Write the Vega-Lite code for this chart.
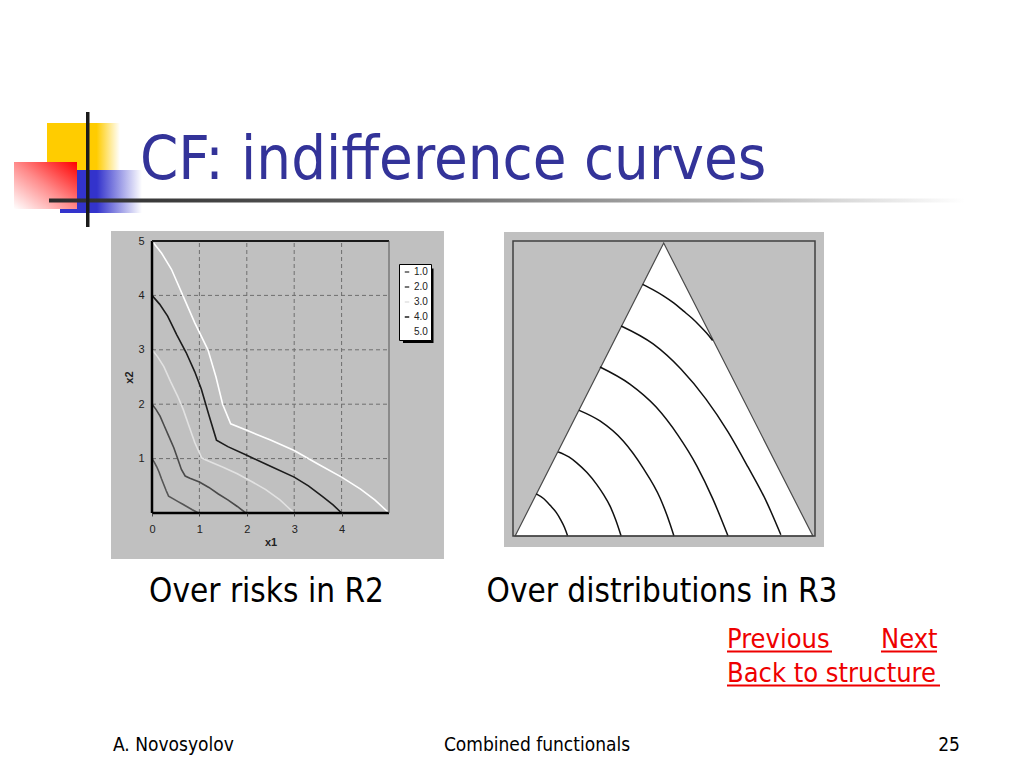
{
  "$schema": "https://vega.github.io/schema/vega-lite/v6.json",
  "background": "white",
  "padding": 0,
  "spacing": 0,
  "config": {"view": {"stroke": null}, "concat": {"spacing": 0}},
  "datasets": {
    "grid": [{"g": 1}, {"g": 2}, {"g": 3}, {"g": 4}],
    "curves": [
      {"level": "1.0", "i": 0, "x1": 0, "x2": 1},
      {"level": "1.0", "i": 1, "x1": 0.05, "x2": 0.93},
      {"level": "1.0", "i": 2, "x1": 0.1, "x2": 0.85},
      {"level": "1.0", "i": 3, "x1": 0.15, "x2": 0.75},
      {"level": "1.0", "i": 4, "x1": 0.2, "x2": 0.63},
      {"level": "1.0", "i": 5, "x1": 0.25, "x2": 0.52},
      {"level": "1.0", "i": 6, "x1": 0.3, "x2": 0.41},
      {"level": "1.0", "i": 7, "x1": 0.35, "x2": 0.31},
      {"level": "1.0", "i": 8, "x1": 0.45, "x2": 0.26},
      {"level": "1.0", "i": 9, "x1": 0.55, "x2": 0.21},
      {"level": "1.0", "i": 10, "x1": 0.65, "x2": 0.16},
      {"level": "1.0", "i": 11, "x1": 0.75, "x2": 0.11},
      {"level": "1.0", "i": 12, "x1": 0.85, "x2": 0.06},
      {"level": "1.0", "i": 13, "x1": 0.98, "x2": 0},
      {"level": "2.0", "i": 0, "x1": 0, "x2": 2},
      {"level": "2.0", "i": 1, "x1": 0.08, "x2": 1.91},
      {"level": "2.0", "i": 2, "x1": 0.17, "x2": 1.78},
      {"level": "2.0", "i": 3, "x1": 0.26, "x2": 1.6},
      {"level": "2.0", "i": 4, "x1": 0.36, "x2": 1.4},
      {"level": "2.0", "i": 5, "x1": 0.46, "x2": 1.2},
      {"level": "2.0", "i": 6, "x1": 0.54, "x2": 1},
      {"level": "2.0", "i": 7, "x1": 0.62, "x2": 0.8},
      {"level": "2.0", "i": 8, "x1": 0.7, "x2": 0.68},
      {"level": "2.0", "i": 9, "x1": 0.8, "x2": 0.64},
      {"level": "2.0", "i": 10, "x1": 1, "x2": 0.57},
      {"level": "2.0", "i": 11, "x1": 1.2, "x2": 0.47},
      {"level": "2.0", "i": 12, "x1": 1.4, "x2": 0.35},
      {"level": "2.0", "i": 13, "x1": 1.6, "x2": 0.24},
      {"level": "2.0", "i": 14, "x1": 1.8, "x2": 0.12},
      {"level": "2.0", "i": 15, "x1": 1.98, "x2": 0},
      {"level": "3.0", "i": 0, "x1": 0, "x2": 3},
      {"level": "3.0", "i": 1, "x1": 0.12, "x2": 2.87},
      {"level": "3.0", "i": 2, "x1": 0.25, "x2": 2.69},
      {"level": "3.0", "i": 3, "x1": 0.39, "x2": 2.42},
      {"level": "3.0", "i": 4, "x1": 0.54, "x2": 2.15},
      {"level": "3.0", "i": 5, "x1": 0.66, "x2": 1.9},
      {"level": "3.0", "i": 6, "x1": 0.78, "x2": 1.6},
      {"level": "3.0", "i": 7, "x1": 0.9, "x2": 1.3},
      {"level": "3.0", "i": 8, "x1": 1.05, "x2": 1.01},
      {"level": "3.0", "i": 9, "x1": 1.2, "x2": 0.95},
      {"level": "3.0", "i": 10, "x1": 1.5, "x2": 0.84},
      {"level": "3.0", "i": 11, "x1": 1.8, "x2": 0.72},
      {"level": "3.0", "i": 12, "x1": 2.1, "x2": 0.58},
      {"level": "3.0", "i": 13, "x1": 2.4, "x2": 0.43},
      {"level": "3.0", "i": 14, "x1": 2.7, "x2": 0.24},
      {"level": "3.0", "i": 15, "x1": 2.85, "x2": 0.12},
      {"level": "3.0", "i": 16, "x1": 3, "x2": 0},
      {"level": "4.0", "i": 0, "x1": 0, "x2": 4},
      {"level": "4.0", "i": 1, "x1": 0.16, "x2": 3.84},
      {"level": "4.0", "i": 2, "x1": 0.33, "x2": 3.62},
      {"level": "4.0", "i": 3, "x1": 0.52, "x2": 3.28},
      {"level": "4.0", "i": 4, "x1": 0.72, "x2": 2.95},
      {"level": "4.0", "i": 5, "x1": 0.9, "x2": 2.6},
      {"level": "4.0", "i": 6, "x1": 1.04, "x2": 2.28},
      {"level": "4.0", "i": 7, "x1": 1.2, "x2": 1.8},
      {"level": "4.0", "i": 8, "x1": 1.36, "x2": 1.34},
      {"level": "4.0", "i": 9, "x1": 1.6, "x2": 1.22},
      {"level": "4.0", "i": 10, "x1": 2, "x2": 1.06},
      {"level": "4.0", "i": 11, "x1": 2.5, "x2": 0.86},
      {"level": "4.0", "i": 12, "x1": 3, "x2": 0.66},
      {"level": "4.0", "i": 13, "x1": 3.3, "x2": 0.5},
      {"level": "4.0", "i": 14, "x1": 3.6, "x2": 0.3},
      {"level": "4.0", "i": 15, "x1": 3.82, "x2": 0.15},
      {"level": "4.0", "i": 16, "x1": 4, "x2": 0},
      {"level": "5.0", "i": 0, "x1": 0, "x2": 5},
      {"level": "5.0", "i": 1, "x1": 0.2, "x2": 4.78},
      {"level": "5.0", "i": 2, "x1": 0.41, "x2": 4.48},
      {"level": "5.0", "i": 3, "x1": 0.65, "x2": 4},
      {"level": "5.0", "i": 4, "x1": 0.9, "x2": 3.5},
      {"level": "5.0", "i": 5, "x1": 1.18, "x2": 3},
      {"level": "5.0", "i": 6, "x1": 1.35, "x2": 2.5},
      {"level": "5.0", "i": 7, "x1": 1.49, "x2": 2},
      {"level": "5.0", "i": 8, "x1": 1.66, "x2": 1.64},
      {"level": "5.0", "i": 9, "x1": 2, "x2": 1.52},
      {"level": "5.0", "i": 10, "x1": 2.5, "x2": 1.34},
      {"level": "5.0", "i": 11, "x1": 3, "x2": 1.15},
      {"level": "5.0", "i": 12, "x1": 3.5, "x2": 0.9},
      {"level": "5.0", "i": 13, "x1": 4, "x2": 0.66},
      {"level": "5.0", "i": 14, "x1": 4.4, "x2": 0.44},
      {"level": "5.0", "i": 15, "x1": 4.7, "x2": 0.24},
      {"level": "5.0", "i": 16, "x1": 5, "x2": 0}
    ],
    "triangle": [{"x": 0.007, "y": 0}, {"x": 0.499, "y": 0.993}, {"x": 0.993, "y": 0}],
    "arcs": [
      {"arc": 1, "i": 0, "x": 0.077, "y": 0.143},
      {"arc": 1, "i": 1, "x": 0.1, "y": 0.128},
      {"arc": 1, "i": 2, "x": 0.123, "y": 0.104},
      {"arc": 1, "i": 3, "x": 0.143, "y": 0.08},
      {"arc": 1, "i": 4, "x": 0.158, "y": 0.055},
      {"arc": 1, "i": 5, "x": 0.171, "y": 0.028},
      {"arc": 1, "i": 6, "x": 0.181, "y": 0},
      {"arc": 2, "i": 0, "x": 0.15, "y": 0.285},
      {"arc": 2, "i": 1, "x": 0.185, "y": 0.268},
      {"arc": 2, "i": 2, "x": 0.211, "y": 0.248},
      {"arc": 2, "i": 3, "x": 0.245, "y": 0.215},
      {"arc": 2, "i": 4, "x": 0.277, "y": 0.175},
      {"arc": 2, "i": 5, "x": 0.3, "y": 0.14},
      {"arc": 2, "i": 6, "x": 0.321, "y": 0.102},
      {"arc": 2, "i": 7, "x": 0.34, "y": 0.055},
      {"arc": 2, "i": 8, "x": 0.358, "y": 0},
      {"arc": 3, "i": 0, "x": 0.219, "y": 0.426},
      {"arc": 3, "i": 1, "x": 0.288, "y": 0.39},
      {"arc": 3, "i": 2, "x": 0.365, "y": 0.322},
      {"arc": 3, "i": 3, "x": 0.431, "y": 0.23},
      {"arc": 3, "i": 4, "x": 0.487, "y": 0.129},
      {"arc": 3, "i": 5, "x": 0.52, "y": 0.041},
      {"arc": 3, "i": 6, "x": 0.533, "y": 0},
      {"arc": 4, "i": 0, "x": 0.288, "y": 0.573},
      {"arc": 4, "i": 1, "x": 0.387, "y": 0.515},
      {"arc": 4, "i": 2, "x": 0.474, "y": 0.437},
      {"arc": 4, "i": 3, "x": 0.546, "y": 0.342},
      {"arc": 4, "i": 4, "x": 0.609, "y": 0.237},
      {"arc": 4, "i": 5, "x": 0.662, "y": 0.125},
      {"arc": 4, "i": 6, "x": 0.712, "y": 0},
      {"arc": 5, "i": 0, "x": 0.358, "y": 0.712},
      {"arc": 5, "i": 1, "x": 0.464, "y": 0.651},
      {"arc": 5, "i": 2, "x": 0.556, "y": 0.566},
      {"arc": 5, "i": 3, "x": 0.639, "y": 0.464},
      {"arc": 5, "i": 4, "x": 0.712, "y": 0.353},
      {"arc": 5, "i": 5, "x": 0.778, "y": 0.234},
      {"arc": 5, "i": 6, "x": 0.838, "y": 0.119},
      {"arc": 5, "i": 7, "x": 0.887, "y": 0.004},
      {"arc": 6, "i": 0, "x": 0.429, "y": 0.853},
      {"arc": 6, "i": 1, "x": 0.463, "y": 0.835},
      {"arc": 6, "i": 2, "x": 0.498, "y": 0.814},
      {"arc": 6, "i": 3, "x": 0.532, "y": 0.79},
      {"arc": 6, "i": 4, "x": 0.564, "y": 0.763},
      {"arc": 6, "i": 5, "x": 0.593, "y": 0.738},
      {"arc": 6, "i": 6, "x": 0.619, "y": 0.712},
      {"arc": 6, "i": 7, "x": 0.641, "y": 0.688},
      {"arc": 6, "i": 8, "x": 0.661, "y": 0.663}
    ]
  },
  "vconcat": [
    {
      "width": 1024,
      "height": 230,
      "data": {"values": [{"slide": "header"}]},
      "layer": [
        {"mark": {"type": "rect", "opacity": 0},
         "encoding": {
           "x": {"datum": 0, "type": "quantitative", "scale": {"domain": [0, 1024], "nice": false, "zero": false}, "axis": null},
           "x2": {"datum": 1024},
           "y": {"datum": 0, "type": "quantitative", "scale": {"domain": [0, 230], "nice": false, "zero": false, "reverse": true}, "axis": null},
           "y2": {"datum": 230}}},
        {"mark": {"type": "rect", "fill": {"gradient": "linear", "x1": 0, "y1": 0, "x2": 1, "y2": 0, "stops": [{"offset": 0, "color": "#ffcc00"}, {"offset": 0.68, "color": "#ffcc00"}, {"offset": 1, "color": "#ffffff"}]}},
         "encoding": {
           "x": {"datum": 47, "type": "quantitative", "scale": {"domain": [0, 1024], "nice": false, "zero": false}, "axis": null},
           "x2": {"datum": 120},
           "y": {"datum": 123, "type": "quantitative", "scale": {"domain": [0, 230], "nice": false, "zero": false, "reverse": true}, "axis": null},
           "y2": {"datum": 170}}},
        {"mark": {"type": "rect", "fill": {"gradient": "linear", "x1": 0, "y1": 0, "x2": 1, "y2": 0, "stops": [{"offset": 0, "color": "#3333cc"}, {"offset": 0.45, "color": "#3333cc"}, {"offset": 1, "color": "#ffffff"}]}},
         "encoding": {
           "x": {"datum": 60, "type": "quantitative", "scale": {"domain": [0, 1024], "nice": false, "zero": false}, "axis": null},
           "x2": {"datum": 142},
           "y": {"datum": 170, "type": "quantitative", "scale": {"domain": [0, 230], "nice": false, "zero": false, "reverse": true}, "axis": null},
           "y2": {"datum": 213}}},
        {"mark": {"type": "rect", "fill": {"gradient": "linear", "x1": 1, "y1": 0, "x2": 0, "y2": 1, "stops": [{"offset": 0, "color": "#ff0000"}, {"offset": 0.5, "color": "#ff8a8a"}, {"offset": 1, "color": "#ffffff"}]}},
         "encoding": {
           "x": {"datum": 14, "type": "quantitative", "scale": {"domain": [0, 1024], "nice": false, "zero": false}, "axis": null},
           "x2": {"datum": 77},
           "y": {"datum": 162, "type": "quantitative", "scale": {"domain": [0, 230], "nice": false, "zero": false, "reverse": true}, "axis": null},
           "y2": {"datum": 209}}},
        {"mark": {"type": "rect", "fill": {"gradient": "linear", "x1": 0, "y1": 0, "x2": 1, "y2": 0, "stops": [{"offset": 0, "color": "#2b2b2b"}, {"offset": 0.35, "color": "#5a5a5a"}, {"offset": 0.75, "color": "#b8b8b8"}, {"offset": 1, "color": "#ffffff"}]}},
         "encoding": {
           "x": {"datum": 49, "type": "quantitative", "scale": {"domain": [0, 1024], "nice": false, "zero": false}, "axis": null},
           "x2": {"datum": 965},
           "y": {"datum": 198.5, "type": "quantitative", "scale": {"domain": [0, 230], "nice": false, "zero": false, "reverse": true}, "axis": null},
           "y2": {"datum": 202.5}}},
        {"mark": {"type": "rect", "fill": "#1a1a1a"},
         "encoding": {
           "x": {"datum": 86, "type": "quantitative", "scale": {"domain": [0, 1024], "nice": false, "zero": false}, "axis": null},
           "x2": {"datum": 89.5},
           "y": {"datum": 112, "type": "quantitative", "scale": {"domain": [0, 230], "nice": false, "zero": false, "reverse": true}, "axis": null},
           "y2": {"datum": 227}}},
        {"mark": {"type": "text", "text": "CF: indifference curves", "align": "left", "baseline": "alphabetic", "fontSize": 61, "font": "DejaVu Sans Condensed, DejaVu Sans", "color": "#333399"},
         "encoding": {
           "x": {"datum": 140, "type": "quantitative", "scale": {"domain": [0, 1024], "nice": false, "zero": false}, "axis": null},
           "y": {"datum": 179, "type": "quantitative", "scale": {"domain": [0, 230], "nice": false, "zero": false, "reverse": true}, "axis": null}}}
      ]
    },
    {
      "spacing": 0,
      "hconcat": [
        {
          "width": 110,
          "height": 385,
          "data": {"values": [{"slide": "spacer"}]},
          "mark": {"type": "rect", "opacity": 0},
          "encoding": {
            "x": {"datum": 0, "type": "quantitative", "scale": {"domain": [0, 1], "nice": false, "zero": false}, "axis": null},
            "x2": {"datum": 1},
            "y": {"datum": 0, "type": "quantitative", "scale": {"domain": [0, 1], "nice": false, "zero": false}, "axis": null},
            "y2": {"datum": 1}
          }
        },
        {
          "width": 237,
          "height": 272,
          "title": {"text": "Over risks in R2", "orient": "bottom", "anchor": "middle", "frame": "group", "offset": 43, "baseline": "alphabetic", "fontSize": 33, "font": "DejaVu Sans Condensed, DejaVu Sans", "fontWeight": "normal", "color": "#000000", "dx": -4},
          "layer": [
            {"data": {"values": [{"part": "bounds"}]},
             "mark": {"type": "rect", "opacity": 0},
             "encoding": {
               "x": {"datum": -0.865, "type": "quantitative", "scale": {"domain": [0, 5], "nice": false, "zero": false}},
               "x2": {"datum": 6.73},
               "y": {"datum": 5.184, "type": "quantitative", "scale": {"domain": [0, 5], "nice": false, "zero": false}},
               "y2": {"datum": -0.846}}},
            {"data": {"values": [{"part": "panel"}]},
             "mark": {"type": "rect", "fill": "#c0c0c0"},
             "encoding": {
               "x": {"datum": -0.865, "type": "quantitative", "scale": {"domain": [0, 5], "nice": false, "zero": false}},
               "x2": {"datum": 6.16},
               "y": {"datum": 5.184, "type": "quantitative", "scale": {"domain": [0, 5], "nice": false, "zero": false}},
               "y2": {"datum": -0.846}}},
            {"data": {"name": "grid"},
             "mark": {"type": "rule", "color": "#6e6e6e", "strokeWidth": 1, "strokeDash": [4, 3]},
             "encoding": {
               "x": {"field": "g", "type": "quantitative", "scale": {"domain": [0, 5], "nice": false, "zero": false}},
               "y": {"datum": 0, "type": "quantitative", "scale": {"domain": [0, 5], "nice": false, "zero": false}},
               "y2": {"datum": 5}}},
            {"data": {"name": "grid"},
             "mark": {"type": "rule", "color": "#6e6e6e", "strokeWidth": 1, "strokeDash": [4, 3]},
             "encoding": {
               "y": {"field": "g", "type": "quantitative", "scale": {"domain": [0, 5], "nice": false, "zero": false}},
               "x": {"datum": 0, "type": "quantitative", "scale": {"domain": [0, 5], "nice": false, "zero": false}},
               "x2": {"datum": 5}}},
            {"data": {"name": "curves"},
             "mark": {"type": "line", "strokeWidth": 1.6},
             "encoding": {
               "x": {"field": "x1", "type": "quantitative", "scale": {"domain": [0, 5], "nice": false, "zero": false},
                     "axis": {"title": "x1", "values": [0, 1, 2, 3, 4], "grid": false, "domain": false, "ticks": true, "tickSize": 3, "tickColor": "#444444", "labelFlush": false, "labelOverlap": false, "labelPadding": 7, "labelFontSize": 11, "labelFont": "Liberation Sans", "labelColor": "#222222", "titleFont": "Liberation Sans", "titleFontSize": 11, "titleFontWeight": "bold", "titleColor": "#222222", "titlePadding": 2, "zindex": 1}},
               "y": {"field": "x2", "type": "quantitative", "scale": {"domain": [0, 5], "nice": false, "zero": false},
                     "axis": {"title": "x2", "values": [1, 2, 3, 4, 5], "grid": false, "domain": false, "ticks": false, "labelFlush": false, "labelOverlap": false, "labelPadding": 8, "labelFontSize": 11, "labelFont": "Liberation Sans", "labelColor": "#222222", "titleFont": "Liberation Sans", "titleFontSize": 11, "titleFontWeight": "bold", "titleColor": "#222222", "titlePadding": 3, "zindex": 1}},
               "color": {"field": "level", "type": "nominal",
                         "scale": {"domain": ["1.0", "2.0", "3.0", "4.0", "5.0"], "range": ["#555555", "#4a4a4a", "#e2e2e2", "#1c1c1c", "#ffffff"]},
                         "legend": {"orient": "none", "legendX": 399, "legendY": 264, "title": null, "fillColor": "#ffffff", "strokeColor": "#000000", "padding": 3, "symbolType": "stroke", "symbolSize": 20, "symbolStrokeWidth": 1.5, "labelFontSize": 10, "labelFont": "Liberation Sans", "labelColor": "#222222", "labelOffset": 2, "rowPadding": 5, "zindex": 1}},
               "order": {"field": "i", "type": "quantitative"}}},
            {"data": {"values": [{"part": "frame"}]},
             "mark": {"type": "rule", "color": "#000000", "strokeWidth": 2.5},
             "encoding": {
               "x": {"datum": 0, "type": "quantitative", "scale": {"domain": [0, 5], "nice": false, "zero": false}},
               "y": {"datum": 0, "type": "quantitative", "scale": {"domain": [0, 5], "nice": false, "zero": false}},
               "y2": {"datum": 5}}},
            {"data": {"values": [{"part": "frame"}]},
             "mark": {"type": "rule", "color": "#000000", "strokeWidth": 2.5},
             "encoding": {
               "y": {"datum": 0, "type": "quantitative", "scale": {"domain": [0, 5], "nice": false, "zero": false}},
               "x": {"datum": 0, "type": "quantitative", "scale": {"domain": [0, 5], "nice": false, "zero": false}},
               "x2": {"datum": 5}}},
            {"data": {"values": [{"part": "frame"}]},
             "mark": {"type": "rule", "color": "#1a1a1a", "strokeWidth": 1.8},
             "encoding": {
               "y": {"datum": 5, "type": "quantitative", "scale": {"domain": [0, 5], "nice": false, "zero": false}},
               "x": {"datum": 0, "type": "quantitative", "scale": {"domain": [0, 5], "nice": false, "zero": false}},
               "x2": {"datum": 5}}},
            {"data": {"values": [{"part": "frame"}]},
             "mark": {"type": "rule", "color": "#555555", "strokeWidth": 1},
             "encoding": {
               "x": {"datum": 5, "type": "quantitative", "scale": {"domain": [0, 5], "nice": false, "zero": false}},
               "y": {"datum": 0, "type": "quantitative", "scale": {"domain": [0, 5], "nice": false, "zero": false}},
               "y2": {"datum": 5}}},
            {"data": {"values": [{"part": "legend shadow"}]},
             "mark": {"type": "rect", "fill": "#000000"},
             "encoding": {
               "x": {"datum": 5.295, "type": "quantitative", "scale": {"domain": [0, 5], "nice": false, "zero": false}},
               "x2": {"datum": 5.939},
               "y": {"datum": 4.494, "type": "quantitative", "scale": {"domain": [0, 5], "nice": false, "zero": false}},
               "y2": {"datum": 3.125}}}
          ]
        },
        {
          "width": 302,
          "height": 295,
          "title": {"text": "Over distributions in R3", "orient": "bottom", "anchor": "middle", "frame": "group", "offset": 55, "baseline": "alphabetic", "fontSize": 33, "font": "DejaVu Sans Condensed, DejaVu Sans", "fontWeight": "normal", "color": "#000000", "dx": -2},
          "layer": [
            {"data": {"values": [{"part": "bounds"}]},
             "mark": {"type": "rect", "opacity": 0},
             "encoding": {
               "x": {"datum": -0.1341, "type": "quantitative", "scale": {"domain": [0, 1], "nice": false, "zero": false}, "axis": null},
               "x2": {"datum": 1.03},
               "y": {"datum": 1.0339, "type": "quantitative", "scale": {"domain": [0, 1], "nice": false, "zero": false}, "axis": null},
               "y2": {"datum": -0.0373}}},
            {"data": {"values": [{"part": "panel"}]},
             "mark": {"type": "rect", "fill": "#c0c0c0"},
             "encoding": {
               "x": {"datum": -0.0298, "type": "quantitative", "scale": {"domain": [0, 1], "nice": false, "zero": false}, "axis": null},
               "x2": {"datum": 1.0298},
               "y": {"datum": 1.0305, "type": "quantitative", "scale": {"domain": [0, 1], "nice": false, "zero": false}, "axis": null},
               "y2": {"datum": -0.0373}}},
            {"data": {"name": "triangle"},
             "mark": {"type": "area", "fill": "#ffffff", "stroke": "#4a4a4a", "strokeWidth": 1.2, "fillOpacity": 1},
             "encoding": {
               "x": {"field": "x", "type": "quantitative", "scale": {"domain": [0, 1], "nice": false, "zero": false}, "axis": null},
               "y": {"field": "y", "type": "quantitative", "scale": {"domain": [0, 1], "nice": false, "zero": false}, "axis": null}}},
            {"data": {"name": "arcs"},
             "mark": {"type": "line", "color": "#111111", "strokeWidth": 1.5, "interpolate": "monotone"},
             "encoding": {
               "x": {"field": "x", "type": "quantitative", "scale": {"domain": [0, 1], "nice": false, "zero": false}, "axis": null},
               "y": {"field": "y", "type": "quantitative", "scale": {"domain": [0, 1], "nice": false, "zero": false}, "axis": null},
               "detail": {"field": "arc", "type": "nominal"},
               "order": {"field": "i", "type": "quantitative"}}},
            {"data": {"values": [{"part": "box"}]},
             "mark": {"type": "rect", "filled": false, "color": "#404040", "strokeWidth": 1.5},
             "encoding": {
               "x": {"datum": 0, "type": "quantitative", "scale": {"domain": [0, 1], "nice": false, "zero": false}, "axis": null},
               "x2": {"datum": 1},
               "y": {"datum": 0, "type": "quantitative", "scale": {"domain": [0, 1], "nice": false, "zero": false}, "axis": null},
               "y2": {"datum": 1}}}
          ]
        }
      ]
    },
    {
      "width": 1024,
      "height": 143,
      "data": {"values": [{"slide": "footer"}]},
      "layer": [
        {"mark": {"type": "rect", "opacity": 0},
         "encoding": {
           "x": {"datum": 0, "type": "quantitative", "scale": {"domain": [0, 1024], "nice": false, "zero": false}, "axis": null},
           "x2": {"datum": 1024},
           "y": {"datum": 625, "type": "quantitative", "scale": {"domain": [625, 768], "nice": false, "zero": false, "reverse": true}, "axis": null},
           "y2": {"datum": 768}}},
        {"mark": {"type": "text", "text": "Previous", "align": "left", "baseline": "alphabetic", "fontSize": 27, "font": "DejaVu Sans Condensed, DejaVu Sans", "color": "#ee0000"},
         "encoding": {
           "x": {"datum": 727, "type": "quantitative", "scale": {"domain": [0, 1024], "nice": false, "zero": false}, "axis": null},
           "y": {"datum": 647, "type": "quantitative", "scale": {"domain": [625, 768], "nice": false, "zero": false, "reverse": true}, "axis": null}}},
        {"mark": {"type": "rect", "fill": "#ee0000"},
         "encoding": {
           "x": {"datum": 727, "type": "quantitative", "scale": {"domain": [0, 1024], "nice": false, "zero": false}, "axis": null},
           "x2": {"datum": 832},
           "y": {"datum": 649.5, "type": "quantitative", "scale": {"domain": [625, 768], "nice": false, "zero": false, "reverse": true}, "axis": null},
           "y2": {"datum": 651.5}}},
        {"mark": {"type": "text", "text": "Next", "align": "left", "baseline": "alphabetic", "fontSize": 27, "font": "DejaVu Sans Condensed, DejaVu Sans", "color": "#ee0000"},
         "encoding": {
           "x": {"datum": 881, "type": "quantitative", "scale": {"domain": [0, 1024], "nice": false, "zero": false}, "axis": null},
           "y": {"datum": 647, "type": "quantitative", "scale": {"domain": [625, 768], "nice": false, "zero": false, "reverse": true}, "axis": null}}},
        {"mark": {"type": "rect", "fill": "#ee0000"},
         "encoding": {
           "x": {"datum": 881, "type": "quantitative", "scale": {"domain": [0, 1024], "nice": false, "zero": false}, "axis": null},
           "x2": {"datum": 937},
           "y": {"datum": 649.5, "type": "quantitative", "scale": {"domain": [625, 768], "nice": false, "zero": false, "reverse": true}, "axis": null},
           "y2": {"datum": 651.5}}},
        {"mark": {"type": "text", "text": "Back to structure", "align": "left", "baseline": "alphabetic", "fontSize": 27, "font": "DejaVu Sans Condensed, DejaVu Sans", "color": "#ee0000"},
         "encoding": {
           "x": {"datum": 727, "type": "quantitative", "scale": {"domain": [0, 1024], "nice": false, "zero": false}, "axis": null},
           "y": {"datum": 681, "type": "quantitative", "scale": {"domain": [625, 768], "nice": false, "zero": false, "reverse": true}, "axis": null}}},
        {"mark": {"type": "rect", "fill": "#ee0000"},
         "encoding": {
           "x": {"datum": 727, "type": "quantitative", "scale": {"domain": [0, 1024], "nice": false, "zero": false}, "axis": null},
           "x2": {"datum": 940},
           "y": {"datum": 683.5, "type": "quantitative", "scale": {"domain": [625, 768], "nice": false, "zero": false, "reverse": true}, "axis": null},
           "y2": {"datum": 685.5}}},
        {"mark": {"type": "text", "text": "A. Novosyolov", "align": "left", "baseline": "alphabetic", "fontSize": 19, "font": "DejaVu Sans Condensed, DejaVu Sans", "color": "#000000"},
         "encoding": {
           "x": {"datum": 113, "type": "quantitative", "scale": {"domain": [0, 1024], "nice": false, "zero": false}, "axis": null},
           "y": {"datum": 750, "type": "quantitative", "scale": {"domain": [625, 768], "nice": false, "zero": false, "reverse": true}, "axis": null}}},
        {"mark": {"type": "text", "text": "Combined functionals", "align": "center", "baseline": "alphabetic", "fontSize": 19, "font": "DejaVu Sans Condensed, DejaVu Sans", "color": "#000000"},
         "encoding": {
           "x": {"datum": 537, "type": "quantitative", "scale": {"domain": [0, 1024], "nice": false, "zero": false}, "axis": null},
           "y": {"datum": 750, "type": "quantitative", "scale": {"domain": [625, 768], "nice": false, "zero": false, "reverse": true}, "axis": null}}},
        {"mark": {"type": "text", "text": "25", "align": "right", "baseline": "alphabetic", "fontSize": 19, "font": "DejaVu Sans Condensed, DejaVu Sans", "color": "#000000"},
         "encoding": {
           "x": {"datum": 960, "type": "quantitative", "scale": {"domain": [0, 1024], "nice": false, "zero": false}, "axis": null},
           "y": {"datum": 750, "type": "quantitative", "scale": {"domain": [625, 768], "nice": false, "zero": false, "reverse": true}, "axis": null}}}
      ]
    }
  ]
}
